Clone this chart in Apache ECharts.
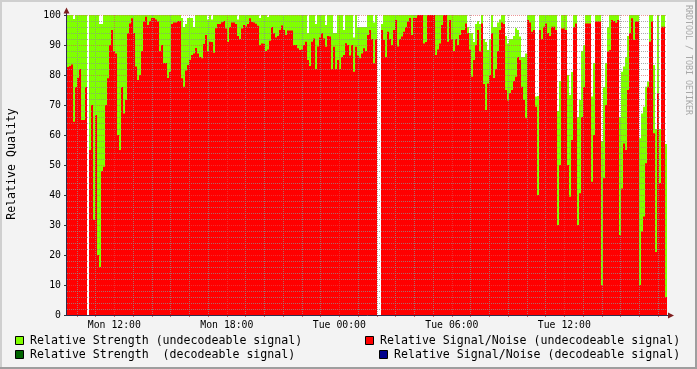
<!DOCTYPE html>
<html><head><meta charset="utf-8">
<script src="https://cdn.jsdelivr.net/npm/echarts@6/dist/echarts.min.js"></script>
<style>html,body{margin:0;padding:0;background:#f3f3f3}#c{width:697px;height:369px}</style>
</head><body><div id="c"></div>
<script>
// ---- data ----
const startHour = 9.476;      // Mon 09:28 (hours since Mon 00:00)
const stepMinutes = 6.4;      // one sample every 6.4 min
const hourTicks = [10,11,12,13,14,15,16,17,18,19,20,21,22,23,24,25,26,27,28,29,30,31,32,33,34,35,36,37,38,39,40,41];
const labelHours = [12, 18, 24, 30, 36];
const labelTexts = ['Mon 12:00', 'Mon 18:00', 'Tue 00:00', 'Tue 06:00', 'Tue 12:00'];

// Relative Signal/Noise (undecodeable signal)
const signalNoise = [
82.7,83,83.5,64.4,76,79,82,65,65,76,
null,55,70,31.7,66.7,20,16,48,49.4,70,
78.9,90,95,88,87.2,60,55,76,67.2,71.7,
93.9,97.2,98.9,94,82.8,78.3,80,88,97.8,99.4,
96.7,98,99,99,98.5,97.8,88,90,84,84,
79,81,97,97.5,97.5,98,98,78.9,76.1,81.5,
83.3,85,86.7,87.2,89,87.2,86,85.6,90.3,93.3,
88,91.1,91,87.4,95.6,97,97,97.6,98,95.5,
91,96,97.5,97.5,97,93,92,95.5,96.7,96.2,
97,98.9,97.7,97.5,97.1,96.4,90,90.5,90.4,88,
88.5,91.4,96,93.9,92.5,93,95,96.5,95,93.3,
94.8,94.8,94.8,90,90,88.9,88.3,88.5,90,91.1,
85,83,91.1,92.2,82,89.5,92.5,93.9,92.2,89.4,
93,92.8,82,89.4,82,85,82,86,86.7,90.6,
90,86.5,90,81.1,89.4,86.5,85.6,87.2,88.9,88,
93.3,95,92,83.9,91.9,null,null,95,91.7,86,
94.4,92,90,95,98.3,89.5,92,92.8,94.4,96,
97.8,99,93.3,99,99,100,100,100,90.5,91,
100,100,100,100,86.7,88.5,90.5,96.7,100,100,
91.1,98.3,92,88,92,90,93.3,95,95,97.2,
94,88.5,79.4,85,90,95,87.8,97.2,77,68.3,
77.2,80,93.9,79,82,88,95,97.5,97,75,
71.5,74,75,78,79.4,86,85,76.1,71.7,65.6,
98.3,97.5,94.4,95,69.4,40,95,92,96.1,97.2,
94,93,96.1,96.1,95,30,50,95.5,95.5,95,
50,39.4,58.3,96,97.2,30,40.6,66,76,97.2,
97.2,97.2,44.4,60,97.8,97.8,97.8,10,45.6,70,
87.8,88.3,98.3,98,97.4,98.3,26.7,42.2,57.2,55,
75,94,98.9,91.7,97.8,97.8,10,27.8,32.8,50.6,
76.1,91.1,97.8,60.6,21,74,44,96.1,96.1,6
];

// Relative Strength (undecodeable signal), stacked on top of Signal/Noise
const strength = [
17.3,17,16.5,34.3,24,21,18,35,35,24,
null,45,30,68.3,33.3,80,81,49,50.6,30,
21.1,10,5,12,12.8,40,45,24,32.8,28.3,
6.1,2.8,1.1,6,17.2,21.7,20,12,2.2,0.6,
3.3,2,1,1,1.5,2.2,12,10,16,16,
21,19,3,2.5,2.5,2,2,20.1,19.9,15.5,
15.7,14,12.3,8.8,11,12.8,14,14.4,9.7,6.7,
10.5,8.9,7.5,12.6,4.4,3,3,2.4,2,4.5,
9,4,2.5,2.5,3,5.5,8,4.5,3.3,3.8,
3,1.1,2.3,2.5,2.9,3.6,9,9.5,9.6,12,
10.8,8.6,4,6.1,7.5,7,5,3.5,5,6.7,
5.2,5.2,5.2,10,10,11.1,11.7,11.5,10,8.9,
9,17,8.9,7.8,15,10.5,7.5,6.1,7.8,7.3,
7,7.2,18,4.6,12,15,18,14,8.3,9.4,
10,13.5,10,11.4,10.6,9.5,10.4,8.8,7.1,8,
6.7,5,8,13.6,8.1,null,null,2,8.3,14,
5.6,8,10,5,1.7,10.5,8,7.2,5.6,4,
2.2,1,6.7,1,1,0,0,0,9.5,9,
0,0,0,0,13.3,11.5,9.5,3.3,0,0,
8.9,1.7,8,12,8,10,6.7,5,5,2.8,
2,5.5,14.6,6,7,3,9.2,2.8,15,22.7,
11.1,12,6.1,17,14,9.5,3.5,2.5,3,18,
19,18,17,15,16.2,9,7.8,9.9,14.3,21.6,
1.7,2.5,5.6,5,3.4,33,5,8,3.9,2.8,
6,7,3.9,3.9,5,38,28,4.5,4.5,5,
30,33.9,22.7,4,2.8,36,31.1,22,14,2.8,
2.8,2.8,28.4,24,2.2,2.2,2.2,48,30.4,14,
8.2,11.7,1.7,2,2.6,1.7,39.3,38.9,25.6,31,
18,6,1.1,8.3,2.2,2.2,48.9,39.4,36.6,25.5,
1.7,8.9,2.2,22.7,41,26,18,3.9,3.9,51
];

const legendItems = [
  {name: 'Relative Strength (undecodeable signal)', color: '#80ff00'},
  {name: 'Relative Signal/Noise (undecodeable signal)', color: '#ff0000'},
  {name: 'Relative Strength  (decodeable signal)', color: '#006400'},
  {name: 'Relative Signal/Noise (decodeable signal)', color: '#00008c'}
];

// ---- build ----
const stepH = stepMinutes / 60;
const n = signalNoise.length;
const xMin = startHour, xMax = startHour + n * stepH;
const xAt = i => startHour + (i + 0.5) * stepH;
// RRDtool-style STACK: strength sits on top of signal/noise
const snPairs = signalNoise.map((v, i) => [xAt(i), v]);
const stackedPairs = signalNoise.map((v, i) => [xAt(i), v == null ? null : v + strength[i]]);

const MONO = 'DejaVu Sans Mono';
const minorGrid = 'rgba(143,143,143,0.75)';
const majorGrid = 'rgba(222,80,80,0.6)';

const chart = echarts.init(document.getElementById('c'), null, {renderer: 'canvas'});
const legendPos = [[15, 341, 30], [365, 341, 380], [15, 355, 30], [379, 355, 394]];
const graphics = [
  {type: 'rect', shape: {x: 0, y: 0, width: 697, height: 2}, style: {fill: '#cfcfcf'}, z: 20, silent: true},
  {type: 'rect', shape: {x: 0, y: 0, width: 2, height: 369}, style: {fill: '#cfcfcf'}, z: 20, silent: true},
  {type: 'rect', shape: {x: 0, y: 367, width: 697, height: 2}, style: {fill: '#9e9e9e'}, z: 20, silent: true},
  {type: 'rect', shape: {x: 695, y: 0, width: 2, height: 369}, style: {fill: '#9e9e9e'}, z: 20, silent: true},
  {type: 'line', shape: {x1: 66.5, y1: 315.5, x2: 66.5, y2: 11}, style: {stroke: '#2e2e4e', lineWidth: 1}, z: 20, silent: true},
  {type: 'line', shape: {x1: 66, y1: 315.5, x2: 669, y2: 315.5}, style: {stroke: '#2e2e4e', lineWidth: 1}, z: 20, silent: true},
  {type: 'polygon', shape: {points: [[63.5, 13.5], [69.5, 13.5], [66.5, 7.5]]}, style: {fill: '#7f1f1f'}, z: 21, silent: true},
  {type: 'polygon', shape: {points: [[668, 312.5], [668, 318.5], [674, 315.5]]}, style: {fill: '#7f1f1f'}, z: 21, silent: true},
  {type: 'text', x: 12, y: 164, rotation: Math.PI / 2, z: 20, silent: true,
   style: {text: 'Relative Quality', font: '11.6px "DejaVu Sans Mono"', fill: '#000', align: 'center', verticalAlign: 'middle'}},
  {type: 'text', x: 688, y: 60, rotation: -Math.PI / 2, z: 20, silent: true,
   style: {text: 'RRDTOOL / TOBI OETIKER', font: '8.3px "DejaVu Sans Mono"', fill: '#a8a8a8', align: 'center', verticalAlign: 'middle'}}
];
legendItems.forEach((it, k) => {
  const p = legendPos[k];
  graphics.push({type: 'rect', shape: {x: p[0] + 0.5, y: p[1] - 4.5, width: 8, height: 8},
    style: {fill: it.color, stroke: '#000', lineWidth: 1}, z: 20, silent: true});
  graphics.push({type: 'text', x: p[2], y: p[1], z: 20, silent: true,
    style: {text: it.name, font: '11.6px "DejaVu Sans Mono"', fill: '#000', align: 'left', verticalAlign: 'middle'}});
});

chart.setOption({
  animation: false,
  backgroundColor: '#f3f3f3',
  grid: {left: 67, top: 15, width: 600, height: 300, show: true, backgroundColor: '#ffffff', borderWidth: 0},
  xAxis: {
    type: 'value', min: xMin, max: xMax, z: 5,
    axisLine: {show: false},
    axisTick: {show: true, customValues: hourTicks, length: 2, lineStyle: {color: 'rgba(200,70,70,0.8)'}},
    axisLabel: {customValues: labelHours, margin: 5, fontFamily: MONO, fontSize: 9.8, color: '#000',
      formatter: v => labelTexts[labelHours.indexOf(Math.round(v))]},
    splitLine: {show: true, lineStyle: {type: [1, 1], width: 1,
      color: [minorGrid, minorGrid, majorGrid, minorGrid, minorGrid, minorGrid]}}
  },
  yAxis: {
    type: 'value', min: 0, max: 100, interval: 10, z: 5,
    axisLine: {show: false},
    axisTick: {show: true, length: 3, lineStyle: {color: '#333'}},
    axisLabel: {margin: 6, fontFamily: MONO, fontSize: 9.8, color: '#000'},
    splitLine: {show: true, lineStyle: {type: [1, 1], color: majorGrid}},
    minorTick: {show: false, splitNumber: 5},
    minorSplitLine: {show: true, lineStyle: {type: [1, 1], color: minorGrid}}
  },
  graphic: graphics,
  series: [
    {type: 'bar', name: legendItems[0].name, barWidth: 2, barGap: '-100%', large: false, z: 1,
     itemStyle: {color: '#80ff00'}, emphasis: {disabled: true}, data: stackedPairs},
    {type: 'bar', name: legendItems[1].name, barWidth: 2, barGap: '-100%', large: false, z: 2,
     itemStyle: {color: '#ff0000'}, emphasis: {disabled: true}, data: snPairs}
  ]
});
</script></body></html>
